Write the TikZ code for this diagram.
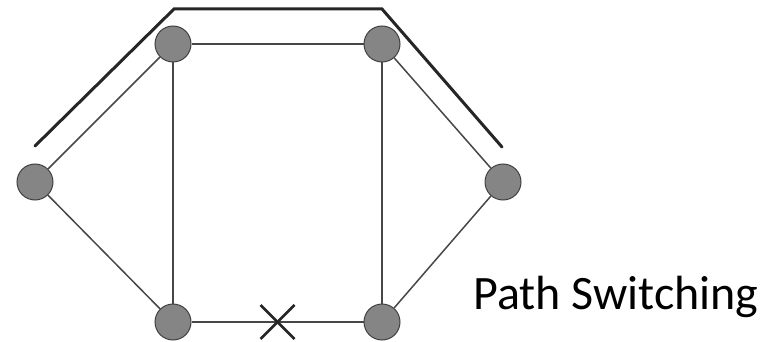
\documentclass[tikz,border=0pt]{standalone}
\usepackage{fontspec}
\setmainfont{Carlito}
\usepackage{tikz}
\usetikzlibrary{calc,positioning}

\begin{document}
\begin{tikzpicture}[x=1pt,y=-1pt,ele/.style={fill=black!48,draw=black!75,line width=1pt,circle,minimum size=36pt,inner sep=0pt},lnk/.style={draw=black!72,line width=1.5pt},route/.style={draw=black!85,line width=3pt,line cap=round}]
            \useasboundingbox (0,0) rectangle (774,342);
            \node[ele] (n1) at (35,182) {};
            \node[ele] (n2) at (173,44) {};
            \node[ele] (n3) at (382,44) {};
            \node[ele] (n4) at (503,182) {};
            \node[ele] (n5) at (173,322) {};
            \node[ele] (n6) at (382,322) {};

            \draw[lnk] (n1) -- (n2);
            \draw[lnk] (n2) -- (n3);
            \draw[lnk] (n3) -- (n4);
            \draw[lnk] (n1) -- (n5);
            \draw[lnk] (n2) -- (n5);
            \draw[lnk] (n3) -- (n6);
            \draw[lnk] (n4) -- (n6);
            \draw[lnk] (n5) -- (n6);

            \coordinate (x) at ($(n5)!0.5!(n6)$);
            \draw[line width=2.6pt,black!85] ($(x)+(-17,-17)$) -- ($(x)+(17,17)$);
            \draw[line width=2.6pt,black!85] ($(x)+(-17,17)$) -- ($(x)+(17,-17)$);

            \coordinate (r1) at (35,146);
            \coordinate (r2) at (174,9);
            \coordinate (r3) at (382,9);
            \coordinate (r4) at (502,147);
            \draw[route,line join=miter] (r1) -- (r2) -- (r3) -- (r4);

            \node[anchor=base west,inner sep=0pt,font=\fontsize{48}{52}\selectfont] (lbl) at (473,309) {Path Switching};
          \end{tikzpicture}
\end{document}
